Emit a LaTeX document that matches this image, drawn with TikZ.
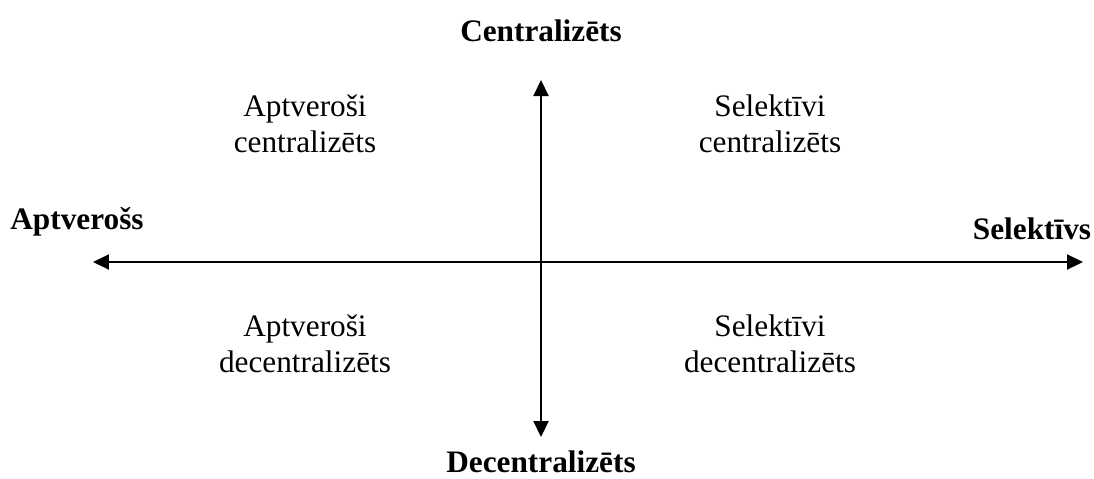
\documentclass[tikz,border=0pt]{standalone}
\usepackage{fontspec}
\setmainfont{Liberation Serif}
\usetikzlibrary{arrows.meta}

\begin{document}
\begin{tikzpicture}[x=0.02cm, y=-0.02cm, align=center, font=\fontsize{17.8}{20.5}\selectfont]
    \tikzstyle{pole} = [anchor=base, font=\fontsize{17.8}{20.5}\selectfont\bfseries]
    \tikzstyle{axis} = [line width=1.15pt, {Triangle[length=0.32cm,width=0.3cm]}-{Triangle[length=0.32cm,width=0.3cm]}]
    \useasboundingbox (0,0) rectangle (1094,478);

    \node[pole] (c) at (541, 41) {Centralizēts};
    \node[pole] (d) at (541, 472) {Decentralizēts};
    \node[pole] (a) at (77, 229) {Aptverošs};
    \node[pole] (s) at (1032, 239) {Selektīvs};

    \node (ac) at (305, 124) {Aptveroši \\ centralizēts};
    \node (sc) at (770, 124) {Selektīvi \\ centralizēts};
    \node (ad) at (305, 344) {Aptveroši \\ decentralizēts};
    \node (sd) at (770, 344) {Selektīvi \\ decentralizēts};

    \coordinate (top) at (541, 80);
    \coordinate (bottom) at (541, 437);
    \coordinate (left) at (93, 262);
    \coordinate (right) at (1083, 262);

    \draw [axis] (top) -- (bottom);
    \draw [axis] (left) -- (right);
\end{tikzpicture}
\end{document}
